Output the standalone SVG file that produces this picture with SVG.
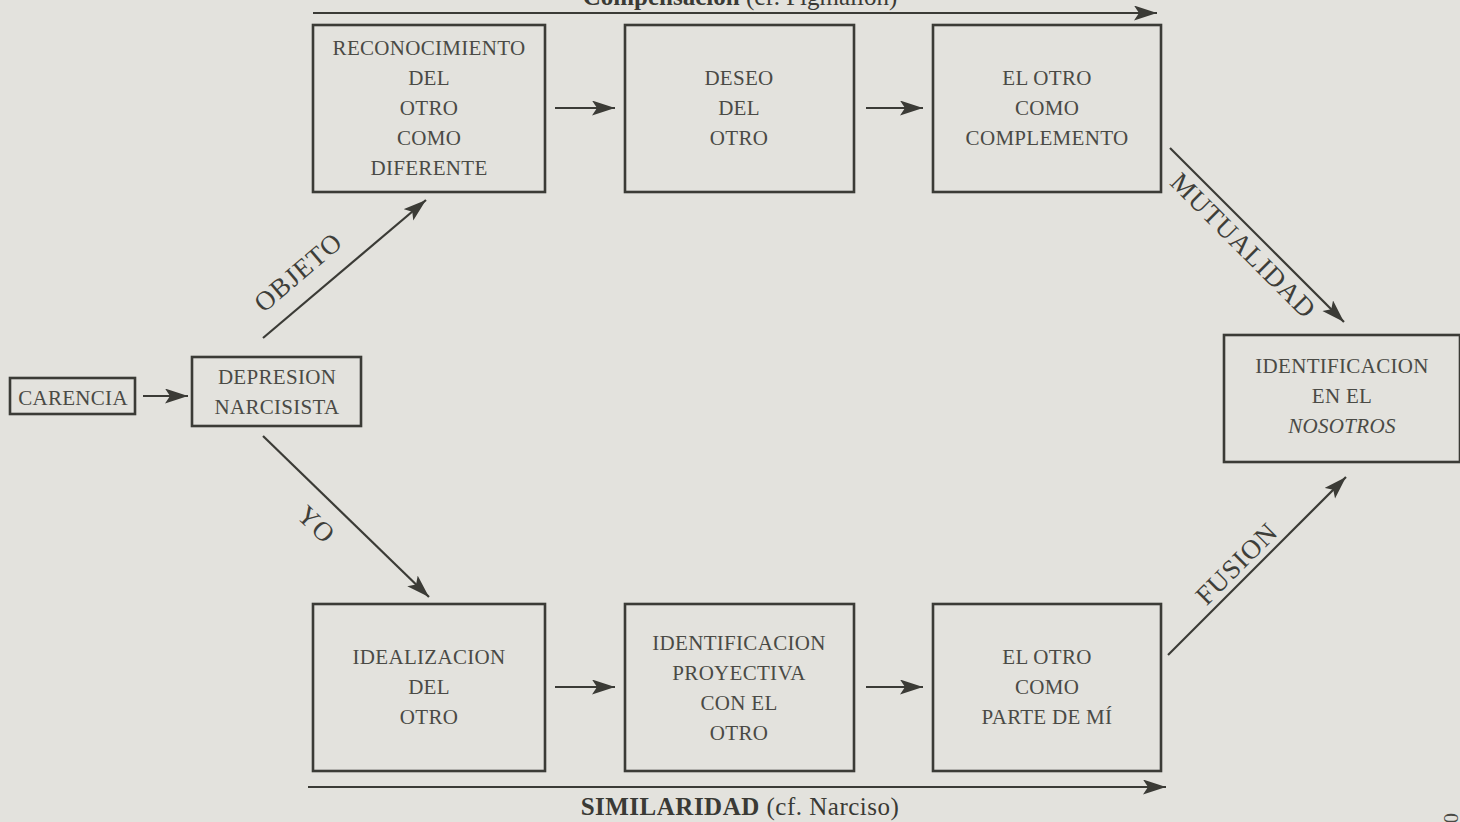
<svg xmlns="http://www.w3.org/2000/svg" width="1460" height="822" viewBox="0 0 1460 822">
<style>
.bg{fill:#e3e2dd}
.box{fill:#e3e2dd;stroke:#3b3b36;stroke-width:2.6}
.t{font-family:"Liberation Serif","Times New Roman",serif;font-size:21px;fill:#4a4a45;text-anchor:middle;letter-spacing:0.3px}
.lbl{font-family:"Liberation Serif","Times New Roman",serif;font-size:27px;fill:#3e3e39;text-anchor:middle;letter-spacing:1px}
.cap{font-family:"Liberation Serif","Times New Roman",serif;font-size:25px;fill:#3a3a35;text-anchor:middle}
.ln{stroke:#3b3b36;stroke-width:2.2;fill:none;marker-end:url(#ah)}
</style>
<defs>
<marker id="ah" markerUnits="userSpaceOnUse" markerWidth="26" markerHeight="16" refX="23" refY="7.5" orient="auto">
<path d="M0,0 L23,7.5 L0,15 L5,7.5 Z" fill="#3b3b36"/>
</marker>
</defs>
<rect class="bg" x="0" y="0" width="1460" height="822"/>

<g id="connectors">
<line class="ln" x1="313" y1="13" x2="1157" y2="13"/>
<line class="ln" x1="308" y1="787" x2="1166" y2="787"/>
<line class="ln" x1="143" y1="396" x2="188" y2="396"/>
<line class="ln" x1="555" y1="108" x2="615" y2="108"/>
<line class="ln" x1="866" y1="108" x2="923" y2="108"/>
<line class="ln" x1="555" y1="687" x2="615" y2="687"/>
<line class="ln" x1="866" y1="687" x2="923" y2="687"/>
<line class="ln" x1="263" y1="338" x2="426" y2="200"/>
<line class="ln" x1="263" y1="436" x2="429" y2="597"/>
<line class="ln" x1="1170" y1="148" x2="1344" y2="322"/>
<line class="ln" x1="1168" y1="655" x2="1346" y2="477"/>
<text class="lbl" transform="translate(304,279) rotate(-40.5)">OBJETO</text>
<text class="lbl" transform="translate(310,531) rotate(44)">YO</text>
<text class="lbl" transform="translate(1237,252) rotate(45)">MUTUALIDAD</text>
<text class="lbl" transform="translate(1243,570) rotate(-45)">FUSION</text>
<text class="cap" x="740" y="5"><tspan font-weight="bold">Compensación</tspan> (cf. Pigmalion)</text>
<text class="cap" x="740" y="815" font-size="26" letter-spacing="0.5"><tspan font-weight="bold">SIMILARIDAD</tspan> (cf. Narciso)</text>
</g>

<g id="carencia">
<rect class="box" x="10" y="378" width="125" height="36"/>
<text class="t" x="73" y="405">CARENCIA</text>
</g>
<g id="depresion">
<rect class="box" x="192" y="357" width="169" height="69"/>
<text class="t" x="277" y="384">DEPRESION</text>
<text class="t" x="277" y="414">NARCISISTA</text>
</g>
<g id="reconocimiento">
<rect class="box" x="313" y="25" width="232" height="167"/>
<text class="t" x="429" y="55">RECONOCIMIENTO</text>
<text class="t" x="429" y="85">DEL</text>
<text class="t" x="429" y="115">OTRO</text>
<text class="t" x="429" y="145">COMO</text>
<text class="t" x="429" y="175">DIFERENTE</text>
</g>
<g id="deseo">
<rect class="box" x="625" y="25" width="229" height="167"/>
<text class="t" x="739" y="85">DESEO</text>
<text class="t" x="739" y="115">DEL</text>
<text class="t" x="739" y="145">OTRO</text>
</g>
<g id="complemento">
<rect class="box" x="933" y="25" width="228" height="167"/>
<text class="t" x="1047" y="85">EL OTRO</text>
<text class="t" x="1047" y="115">COMO</text>
<text class="t" x="1047" y="145">COMPLEMENTO</text>
</g>
<g id="idealizacion">
<rect class="box" x="313" y="604" width="232" height="167"/>
<text class="t" x="429" y="664">IDEALIZACION</text>
<text class="t" x="429" y="694">DEL</text>
<text class="t" x="429" y="724">OTRO</text>
</g>
<g id="proyectiva">
<rect class="box" x="625" y="604" width="229" height="167"/>
<text class="t" x="739" y="650">IDENTIFICACION</text>
<text class="t" x="739" y="680">PROYECTIVA</text>
<text class="t" x="739" y="710">CON EL</text>
<text class="t" x="739" y="740">OTRO</text>
</g>
<g id="parte">
<rect class="box" x="933" y="604" width="228" height="167"/>
<text class="t" x="1047" y="664">EL OTRO</text>
<text class="t" x="1047" y="694">COMO</text>
<text class="t" x="1047" y="724">PARTE DE MÍ</text>
</g>
<g id="nosotros">
<rect class="box" x="1224" y="335" width="236" height="127"/>
<text class="t" x="1342" y="373">IDENTIFICACION</text>
<text class="t" x="1342" y="403">EN EL</text>
<text class="t" x="1342" y="433" font-style="italic">NOSOTROS</text>
</g>
<text class="t" transform="translate(1458,818) rotate(-90)" font-size="22">0</text>
</svg>
